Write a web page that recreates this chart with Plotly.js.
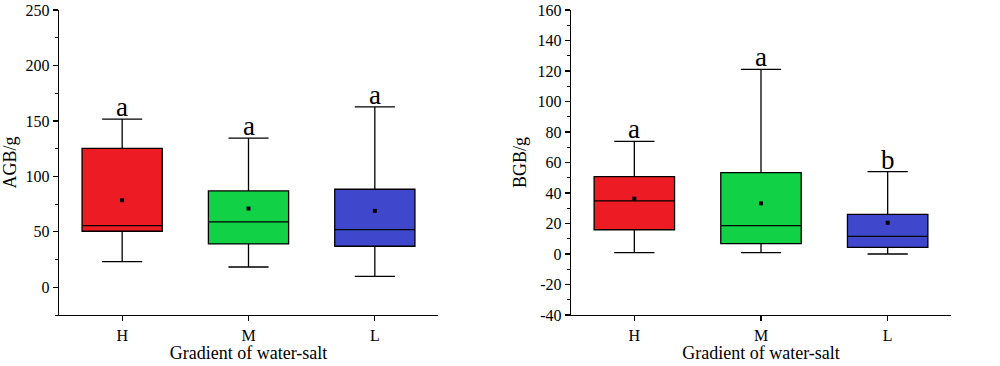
<!DOCTYPE html>
<html><head><meta charset="utf-8">
<script src="https://cdn.plot.ly/plotly-3.0.1.min.js"></script>
<style>html,body{margin:0;padding:0;background:#fff}#chart{width:1000px;height:366px}</style>
</head><body><div id="chart"></div>
<script>
const categories = ['H', 'M', 'L'];
const colors = ['#ED1C24', '#11D146', '#3F48CC'];

// AGB (left panel)
const agbLower  = [23.2, 18.3, 9.9];
const agbQ1     = [50.5, 39.1, 37.0];
const agbMedian = [55.6, 59.0, 52.0];
const agbQ3     = [125.2, 86.9, 88.4];
const agbUpper  = [151.6, 134.5, 162.7];
const agbMean   = [78.5, 71.0, 68.9];
const agbLetters = ['a', 'a', 'a'];
const agbTickVals = [0, 50, 100, 150, 200, 250];
const agbTickText = ['0', '50', '100', '150', '200', '250'];

// BGB (right panel)
const bgbLower  = [0.9, 0.9, 0.0];
const bgbQ1     = [15.9, 6.8, 4.4];
const bgbMedian = [34.8, 18.6, 11.6];
const bgbQ3     = [50.7, 53.3, 26.0];
const bgbUpper  = [73.9, 121.1, 54.0];
const bgbMean   = [36.3, 33.2, 20.5];
const bgbLetters = ['a', 'a', 'b'];
const bgbTickVals = [-40, -20, 0, 20, 40, 60, 80, 100, 120, 140, 160];
const bgbTickText = ['-40', '-20', '0', '20', '40', '60', '80', '100', '120', '140', '160'];

const FONT = 'Liberation Serif, Times New Roman, serif';
const traces = [];
const annotations = [];

function addPanel(xa, ya, lower, q1, med, q3, upper, mean, letters) {
  categories.forEach((c, i) => {
    traces.push({
      type: 'box', x: [c], q1: [q1[i]], median: [med[i]], q3: [q3[i]],
      lowerfence: [lower[i]], upperfence: [upper[i]],
      xaxis: xa, yaxis: ya, width: 0.635, whiskerwidth: 0.5,
      fillcolor: colors[i], line: {color: '#000', width: 1.3},
      boxpoints: false, showlegend: false, hoverinfo: 'skip'
    });
    annotations.push({
      x: c, y: upper[i], xref: xa, yref: ya,
      text: letters[i], showarrow: false, yanchor: 'bottom', yshift: -5,
      font: {family: FONT, size: 27, color: '#000'}
    });
  });
  traces.push({
    type: 'scatter', mode: 'markers', x: categories, y: mean,
    xaxis: xa, yaxis: ya, marker: {symbol: 'square', size: 4, color: '#000'},
    showlegend: false, hoverinfo: 'skip'
  });
}
addPanel('x', 'y', agbLower, agbQ1, agbMedian, agbQ3, agbUpper, agbMean, agbLetters);
addPanel('x2', 'y2', bgbLower, bgbQ1, bgbMedian, bgbQ3, bgbUpper, bgbMean, bgbLetters);

const tickFont = {family: FONT, size: 16, color: '#000'};
const titleFont = {family: FONT, size: 18, color: '#000'};
function xAxis(domain, anchor) {
  return {
    domain: domain, anchor: anchor, type: 'category', categoryorder: 'array', categoryarray: categories,
    range: [-0.5, 2.5], showline: true, linecolor: '#000', linewidth: 1.3,
    ticks: 'outside', ticklen: 5, tickwidth: 1.2, tickcolor: '#000',
    showgrid: false, zeroline: false, tickfont: tickFont,
    title: {text: 'Gradient of water-salt', font: titleFont, standoff: 4}
  };
}
function yAxis(range, dtick, vals, text, anchor, title) {
  return {
    domain: [0, 1], anchor: anchor, range: range,
    tickmode: 'array', tickvals: vals, ticktext: text,
    showline: true, linecolor: '#000', linewidth: 1.3,
    ticks: 'outside', ticklen: 5, tickwidth: 1.2, tickcolor: '#000',
    minor: {tick0: 0, dtick: dtick / 2, ticks: 'outside', ticklen: 3, tickwidth: 1, tickcolor: '#000', showgrid: false},
    showgrid: false, zeroline: false, tickfont: tickFont,
    title: {text: title, font: titleFont, standoff: 6}
  };
}

const layout = {
  width: 1000, height: 366,
  margin: {l: 0, r: 0, t: 10, b: 51},
  paper_bgcolor: '#fff', plot_bgcolor: '#fff',
  xaxis: xAxis([0.059, 0.438], 'y'),
  yaxis: yAxis([-25, 250], 50, agbTickVals, agbTickText, 'x', 'AGB/g'),
  xaxis2: xAxis([0.571, 0.951], 'y2'),
  yaxis2: yAxis([-40, 160], 20, bgbTickVals, bgbTickText, 'x2', 'BGB/g'),
  boxmode: 'overlay',
  annotations: annotations,
  font: {family: FONT}
};
Plotly.newPlot('chart', traces, layout, {displayModeBar: false, staticPlot: true});
</script></body></html>
